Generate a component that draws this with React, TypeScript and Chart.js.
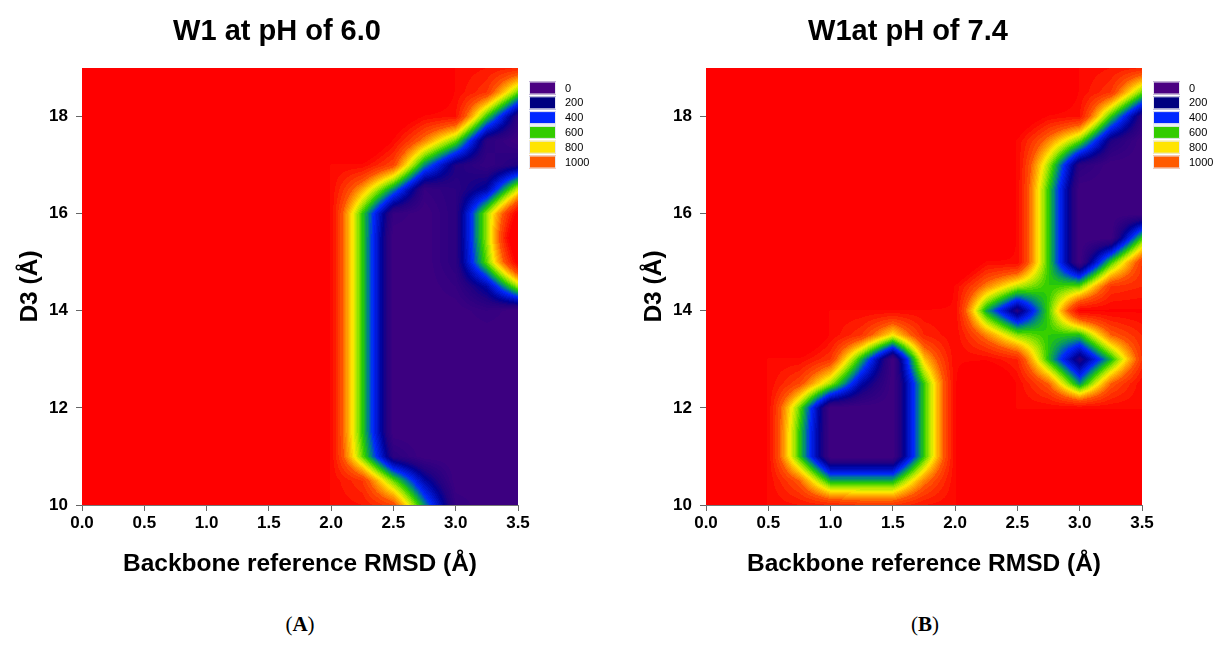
import React, { useEffect, useRef } from "react";
import { Chart, registerables } from "chart.js";
Chart.register(...registerables);

// ---------- data ----------
const C = 1500; // unsampled (capped) free-energy value
const xNodes = [0, 0.25, 0.5, 0.75, 1, 1.25, 1.5, 1.75, 2, 2.25, 2.5, 2.75, 3, 3.25, 3.5];
const yNodes = [10, 10.5, 11, 11.5, 12, 12.5, 13, 13.5, 14, 14.5, 15, 15.5, 16, 16.5, 17, 17.5, 18, 18.5, 19];
const xTicks = [0, 0.5, 1, 1.5, 2, 2.5, 3, 3.5];
const yTicks = [10, 12, 14, 16, 18];
const legendLevels = [0, 200, 400, 600, 800, 1000];
const legendColors = ["#4b0082", "#000080", "#0028ff", "#33cc00", "#ffe400", "#ff5a00"];
const titleA = "W1 at pH of 6.0";
const titleB = "W1at pH of 7.4";
const xTitle = "Backbone reference RMSD (Å)";
const yTitle = "D3 (Å)";

// rows: y = 10 ... 19 (step 0.5); columns: x = 0 ... 3.5 (step 0.25)
const gridA = [
  [C, C, C, C, C, C, C, C, 1240, 1200, 1050, 500, 50, 0, 0],
  [C, C, C, C, C, C, C, C, 1240, 1100, 650, 250, 0, 0, 0],
  [C, C, C, C, C, C, C, C, 1240, 650, 100, 0, 0, 0, 0],
  [C, C, C, C, C, C, C, C, 1240, 600, 0, 0, 0, 0, 0],
  [C, C, C, C, C, C, C, C, 1240, 600, 0, 0, 0, 0, 0],
  [C, C, C, C, C, C, C, C, 1240, 600, 0, 0, 0, 0, 0],
  [C, C, C, C, C, C, C, C, 1240, 600, 0, 0, 0, 0, 0],
  [C, C, C, C, C, C, C, C, 1240, 600, 0, 0, 0, 0, 0],
  [C, C, C, C, C, C, C, C, 1240, 600, 0, 0, 0, 50, 0],
  [C, C, C, C, C, C, C, C, 1240, 600, 0, 0, 50, 250, 700],
  [C, C, C, C, C, C, C, C, 1240, 600, 0, 0, 100, 650, 1300],
  [C, C, C, C, C, C, C, C, 1240, 600, 0, 0, 100, 700, C],
  [C, C, C, C, C, C, C, C, 1240, 600, 50, 0, 100, 700, 1300],
  [C, C, C, C, C, C, C, C, 1240, 900, 500, 50, 100, 250, 750],
  [C, C, C, C, C, C, C, C, 1240, 1240, 1050, 500, 150, 50, 150],
  [C, C, C, C, C, C, C, C, C, C, 1240, 950, 650, 100, 0],
  [C, C, C, C, C, C, C, C, C, C, 1400, 1240, 1200, 600, 100],
  [C, C, C, C, C, C, C, C, C, C, C, C, 1240, 1100, 650],
  [C, C, C, C, C, C, C, C, C, C, C, C, 1240, 1200, 1150],
];

const gridB = [
  [C, C, 1240, 1200, 1150, 1100, 1100, 1200, 1240, C, C, C, C, C, C],
  [C, C, 1240, 1000, 550, 550, 550, 950, 1240, C, C, C, C, C, C],
  [C, C, 1240, 600, 0, 0, 0, 600, 1240, C, C, C, C, C, C],
  [C, C, 1240, 600, 0, 0, 0, 600, 1240, C, C, C, C, C, C],
  [C, C, 1240, 650, 0, 0, 0, 600, 1240, C, 1240, 1240, 1240, 1240, 1240],
  [C, C, 1240, 1050, 700, 250, 0, 600, 1240, C, 1240, 1000, 500, 1000, 1240],
  [C, C, 1240, 1240, 1100, 550, 0, 850, 1240, 1240, 1150, 580, 130, 560, 1100],
  [C, C, C, C, 1240, 1100, 800, 1150, 1240, 950, 680, 600, 580, 1000, 1150],
  [C, C, C, C, 1240, 1240, 1240, 1240, 1240, 540, 130, 620, 1260, 1260, 1260],
  [C, C, C, C, C, C, C, C, 1240, 950, 720, 600, 650, 1100, 1150],
  [C, C, C, C, C, C, C, C, C, 1240, 1240, 600, 0, 600, 1100],
  [C, C, C, C, C, C, C, C, C, C, 1240, 600, 0, 0, 600],
  [C, C, C, C, C, C, C, C, C, C, 1240, 600, 0, 0, 0],
  [C, C, C, C, C, C, C, C, C, C, 1240, 600, 0, 0, 0],
  [C, C, C, C, C, C, C, C, C, C, 1240, 700, 100, 0, 0],
  [C, C, C, C, C, C, C, C, C, C, 1240, 950, 650, 150, 0],
  [C, C, C, C, C, C, C, C, C, C, 1400, 1240, 1200, 600, 100],
  [C, C, C, C, C, C, C, C, C, C, C, C, 1240, 1100, 650],
  [C, C, C, C, C, C, C, C, C, C, C, C, 1240, 1200, 1150],
];

// ---------- colour map ----------
const stops: [number, number[]][] = [
  [0, [62, 0, 128]],
  [140, [35, 0, 130]],
  [220, [0, 0, 150]],
  [400, [0, 40, 255]],
  [500, [0, 140, 120]],
  [600, [40, 205, 0]],
  [700, [160, 230, 0]],
  [800, [255, 235, 0]],
  [900, [255, 165, 0]],
  [1000, [255, 100, 0]],
];
const highSteps = [
  [255, 80, 0],
  [255, 62, 0],
  [255, 44, 0],
  [255, 26, 0],
  [255, 10, 0],
];
function colorFor(v: number): number[] {
  if (v >= 1250) return [255, 0, 0];
  if (v >= 1000) return highSteps[Math.min(4, Math.floor((v - 1000) / 50))];
  const q = Math.max(0, Math.floor(v / 25) * 25 + 12.5);
  for (let k = 0; k < stops.length - 1; k++) {
    const [a, ca] = stops[k];
    const [b, cb] = stops[k + 1];
    if (q <= b) {
      const t = (q - a) / (b - a);
      return [0, 1, 2].map((i) => Math.round(ca[i] + (cb[i] - ca[i]) * t));
    }
  }
  return stops[stops.length - 1][1];
}

function findCell(nodes: number[], v: number): [number, number] {
  if (v <= nodes[0]) return [0, 0];
  const n = nodes.length;
  if (v >= nodes[n - 1]) return [n - 2, 1];
  for (let i = 0; i < n - 1; i++) {
    if (v <= nodes[i + 1]) return [i, (v - nodes[i]) / (nodes[i + 1] - nodes[i])];
  }
  return [n - 2, 1];
}

function bilinear(grid: number[][], x: number, y: number): number {
  const [i, u] = findCell(xNodes, x);
  const [j, w] = findCell(yNodes, y);
  const a = grid[j][i], b = grid[j][i + 1], c = grid[j + 1][i], d = grid[j + 1][i + 1];
  return (a * (1 - u) + b * u) * (1 - w) + (c * (1 - u) + d * u) * w;
}

function makeHeatPlugin(grid: number[][]) {
  return {
    id: "heat",
    beforeDatasetsDraw(chart: any) {
      const { ctx, chartArea, scales } = chart;
      const w = Math.round(chartArea.right - chartArea.left);
      const h = Math.round(chartArea.bottom - chartArea.top);
      const off = document.createElement("canvas");
      off.width = w;
      off.height = h;
      const octx = off.getContext("2d")!;
      const img = octx.createImageData(w, h);
      for (let j = 0; j < h; j++) {
        const yv = scales.y.getValueForPixel(chartArea.top + j + 0.5);
        for (let i = 0; i < w; i++) {
          const xv = scales.x.getValueForPixel(chartArea.left + i + 0.5);
          const col = colorFor(bilinear(grid, xv, yv));
          const p = (j * w + i) * 4;
          img.data[p] = col[0];
          img.data[p + 1] = col[1];
          img.data[p + 2] = col[2];
          img.data[p + 3] = 255;
        }
      }
      octx.putImageData(img, 0, 0);
      ctx.drawImage(off, chartArea.left, chartArea.top);
    },
  };
}

function makeDecorPlugin(title: string, titleX: number) {
  return {
    id: "decor",
    afterDraw(chart: any) {
      const { ctx, chartArea } = chart;
      ctx.save();
      ctx.fillStyle = "#000";
      ctx.font = "bold 29px 'Liberation Sans', Arial, sans-serif";
      ctx.textAlign = "center";
      ctx.textBaseline = "middle";
      ctx.fillText(title, titleX, 32);
      // legend
      const lx = chartArea.right + 11;
      ctx.font = "11px 'Liberation Sans', Arial, sans-serif";
      ctx.textAlign = "left";
      legendLevels.forEach((lev, k) => {
        const cy = 88 + k * 14.8;
        ctx.fillStyle = legendColors[k];
        ctx.fillRect(lx, cy - 6.5, 27, 13);
        ctx.strokeStyle = "#e8e8f0";
        ctx.lineWidth = 1;
        ctx.strokeRect(lx + 0.5, cy - 6, 26, 12);
        ctx.fillStyle = "#000";
        ctx.fillText(String(lev), lx + 36, cy + 0.5);
      });
      ctx.restore();
    },
  };
}

function Panel({ grid, title, left, titleX }: { grid: number[][]; title: string; left: number; titleX: number }) {
  const ref = useRef<HTMLCanvasElement>(null);
  useEffect(() => {
    const canvas = ref.current!;
    const points: { x: number; y: number }[] = [];
    yNodes.forEach((y) => xNodes.forEach((x) => points.push({ x, y })));
    const tickFont = { family: "'Liberation Sans', Arial, sans-serif", size: 17, weight: "bold" as const };
    const titleFont = { family: "'Liberation Sans', Arial, sans-serif", size: 24.5, weight: "bold" as const };
    const chart = new Chart(canvas, {
      type: "scatter",
      data: { datasets: [{ data: points, pointRadius: 0, pointHoverRadius: 0, showLine: false }] },
      options: {
        animation: false,
        responsive: false,
        events: [],
        layout: { padding: { top: 68, right: 90, left: 0, bottom: 0 } },
        plugins: { legend: { display: false }, tooltip: { enabled: false }, title: { display: false } },
        scales: {
          x: {
            type: "linear",
            min: 0,
            max: 3.5,
            afterFit: (s: any) => { s.height = 95; },
            afterBuildTicks: (s: any) => { s.ticks = xTicks.map((v) => ({ value: v })); },
            grid: { display: true, drawOnChartArea: false, drawTicks: true, tickLength: 6, color: "#666" },
            border: { display: true, color: "#777", width: 1 },
            ticks: { color: "#000", font: tickFont, padding: 2, maxRotation: 0, callback: (v: any) => Number(v).toFixed(1) },
            title: { display: true, text: xTitle, color: "#000", font: titleFont, padding: { top: 0, bottom: 21 } },
          },
          y: {
            type: "linear",
            min: 10,
            max: 19,
            afterFit: (s: any) => { s.width = 82; },
            afterBuildTicks: (s: any) => { s.ticks = yTicks.map((v) => ({ value: v })); },
            grid: { display: true, drawOnChartArea: false, drawTicks: true, tickLength: 6, color: "#666" },
            border: { display: true, color: "#777", width: 1 },
            ticks: { color: "#000", font: tickFont, padding: 8, callback: (v: any) => String(v) },
            title: { display: true, text: yTitle, color: "#000", font: titleFont, padding: { top: 16, bottom: 0 } },
          },
        },
      },
      plugins: [makeHeatPlugin(grid), makeDecorPlugin(title, titleX)],
    } as any);
    return () => chart.destroy();
  }, [grid, title, titleX]);
  return (
    <canvas
      ref={ref}
      width={608}
      height={600}
      style={{ position: "absolute", left, top: 0, width: 608, height: 600 }}
    />
  );
}

export default function App() {
  const cap: React.CSSProperties = {
    position: "absolute",
    top: 612,
    width: 80,
    textAlign: "center",
    fontFamily: "'Liberation Serif', 'Times New Roman', serif",
    fontSize: 21,
    color: "#000",
  };
  return (
    <div style={{ position: "absolute", left: 0, top: 0, width: 1217, height: 664, background: "#fff" }}>
      <Panel grid={gridA} title={titleA} left={0} titleX={277} />
      <Panel grid={gridB} title={titleB} left={624} titleX={908 - 624} />
      <div style={{ ...cap, left: 260 }}>(<b>A</b>)</div>
      <div style={{ ...cap, left: 885 }}>(<b>B</b>)</div>
    </div>
  );
}
